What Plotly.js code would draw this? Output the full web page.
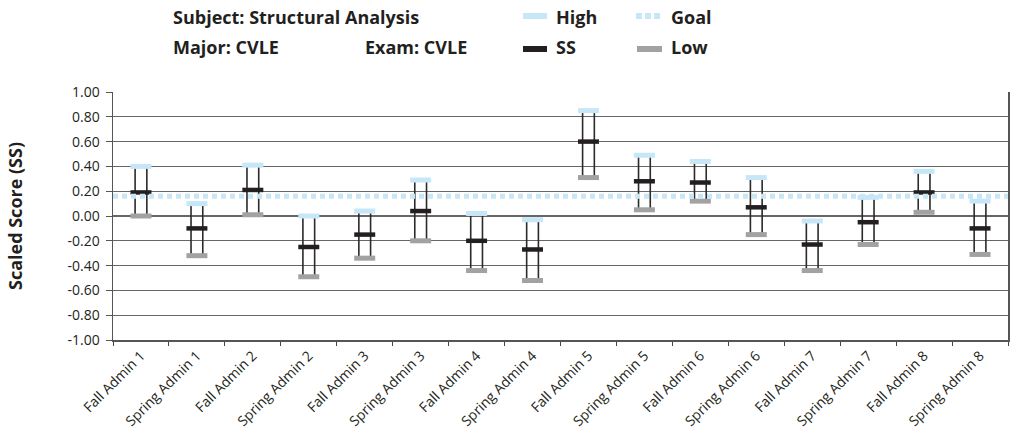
<!DOCTYPE html>
<html>
<head>
<meta charset="utf-8">
<script src="https://cdn.plot.ly/plotly-3.0.1.min.js"></script>
<style>html,body{margin:0;padding:0;background:#fff;}#chart{width:1011px;height:440px;}</style>
</head>
<body>
<div id="chart"></div>
<script>
const categories = ['Fall Admin 1','Spring Admin 1','Fall Admin 2','Spring Admin 2','Fall Admin 3','Spring Admin 3','Fall Admin 4','Spring Admin 4','Fall Admin 5','Spring Admin 5','Fall Admin 6','Spring Admin 6','Fall Admin 7','Spring Admin 7','Fall Admin 8','Spring Admin 8'];
const high = [0.40, 0.10, 0.41, 0.00, 0.04, 0.29, 0.02, -0.03, 0.85, 0.49, 0.44, 0.31, -0.04, 0.15, 0.36, 0.12];
const ss   = [0.19, -0.10, 0.21, -0.25, -0.15, 0.04, -0.20, -0.27, 0.60, 0.28, 0.27, 0.07, -0.23, -0.05, 0.19, -0.10];
const low  = [0.00, -0.32, 0.01, -0.49, -0.34, -0.20, -0.44, -0.52, 0.31, 0.05, 0.12, -0.15, -0.44, -0.23, 0.03, -0.31];
const goal = 0.16;
const yTickVals = [-1, -0.8, -0.6, -0.4, -0.2, 0, 0.2, 0.4, 0.6, 0.8, 1];
const yTickText = ['-1.00','-0.80','-0.60','-0.40','-0.20','0.00','0.20','0.40','0.60','0.80','1.00'];

const C_HIGH = '#c7e7f8', C_SS = '#231f20', C_LOW = '#a2a2a4';
const W = 1011, H = 440, ML = 113, MR = 3, MT = 92, MB = 100;
const px = v => (v - ML) / (W - ML - MR);
const py = v => (H - MB - v) / (H - MT - MB);
const FONT = '"Open Sans", sans-serif';

const range = high.map((h, i) => h - low[i]);

const traces = [
  {type: 'bar', x: categories, y: range, base: low, width: 0.21,
   marker: {color: 'rgba(0,0,0,0)', line: {color: '#2b2b2b', width: 1.6}},
   hoverinfo: 'skip', showlegend: false},
  {type: 'scatter', mode: 'markers', x: categories, y: low, name: 'Low',
   marker: {symbol: 'line-ew', size: 15, color: C_LOW, line: {color: C_LOW, width: 5}}, showlegend: false},
  {type: 'scatter', mode: 'markers', x: categories, y: high, name: 'High',
   marker: {symbol: 'line-ew', size: 15, color: C_HIGH, line: {color: C_HIGH, width: 5}}, showlegend: false},
  {type: 'scatter', mode: 'markers', x: categories, y: ss, name: 'SS',
   marker: {symbol: 'line-ew', size: 15, color: C_SS, line: {color: C_SS, width: 4.5}}, showlegend: false}
];

const hdr = (text, x, y) => ({text: text, xref: 'paper', yref: 'paper', x: px(x), y: py(y),
  xanchor: 'left', yanchor: 'middle', showarrow: false,
  font: {family: FONT, size: 18, color: '#231f20', weight: 700}});

const annotations = [
  hdr('Subject: Structural Analysis', 171, 17),
  hdr('Major: CVLE', 171, 47),
  hdr('Exam: CVLE', 363, 47),
  hdr('High', 554, 17),
  hdr('Goal', 669, 17),
  hdr('SS', 554, 47),
  hdr('Low', 669, 47)
];

const sw = (x0, x1, y, color, dash) => ({type: 'line', xref: 'paper', yref: 'paper',
  x0: px(x0), x1: px(x1), y0: py(y), y1: py(y), line: {color: color, width: 6, dash: dash || 'solid'}});

const shapes = [
  {type: 'line', xref: 'paper', x0: 0, x1: 1, yref: 'y', y0: goal, y1: goal, layer: 'above',
   line: {color: C_HIGH, width: 5, dash: '5px,4px'}},
  sw(523, 547, 16, C_HIGH),
  sw(636, 661, 16, C_HIGH, '6px,3px'),
  sw(523, 547, 49, C_SS),
  sw(637, 662, 49, C_LOW)
];

const layout = {
  width: W, height: H,
  margin: {l: ML, r: MR, t: MT, b: MB},
  paper_bgcolor: '#fff', plot_bgcolor: '#fff',
  showlegend: false, hovermode: false,
  font: {family: FONT, color: '#231f20'},
  xaxis: {type: 'category', tickangle: -45, tickson: 'boundaries', ticks: 'outside', ticklen: 4,
    tickcolor: '#444', showgrid: false, showline: true, linecolor: '#555', linewidth: 2,
    tickfont: {family: FONT, size: 14, color: '#231f20'}, range: [-0.5, 15.5], fixedrange: true},
  yaxis: {range: [-1, 1], tickvals: yTickVals, ticktext: yTickText, ticks: 'outside', ticklen: 6,
    tickcolor: '#555', showgrid: true, gridcolor: '#666', gridwidth: 1.2, zeroline: false,
    showline: true, linecolor: '#555', linewidth: 1.5, mirror: true,
    ticklabelstandoff: 3,
    tickfont: {family: FONT, size: 14, color: '#231f20'},
    title: {text: 'Scaled Score (SS)', standoff: 40, font: {family: FONT, size: 18, color: '#231f20', weight: 700}},
    fixedrange: true},
  annotations: annotations,
  shapes: shapes
};

Plotly.newPlot('chart', traces, layout, {displayModeBar: false, staticPlot: true});
</script>
</body>
</html>
